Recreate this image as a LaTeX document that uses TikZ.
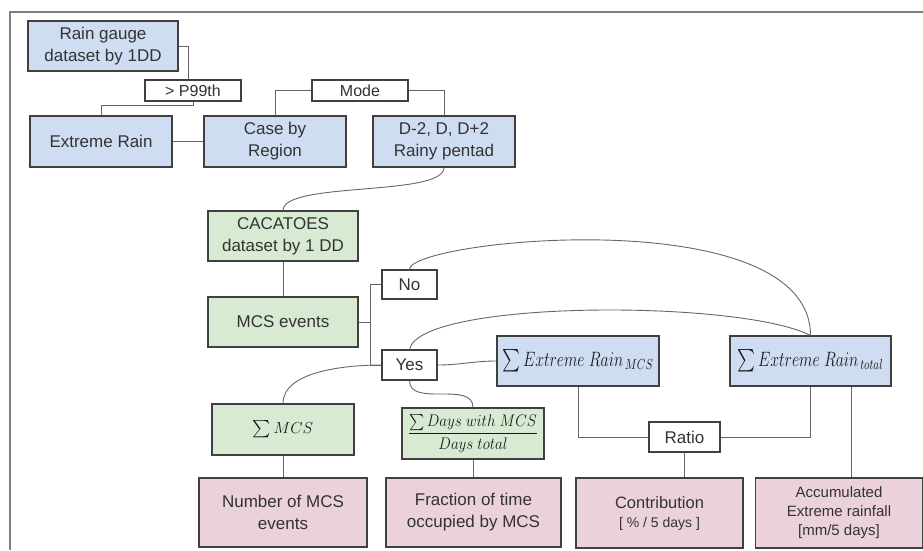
\RequirePackage{fix-cm}
\documentclass[tikz,border=0pt]{standalone}
\usepackage{exscale}
\usepackage{graphicx}
\usepackage{fontspec}
\setmainfont{Liberation Sans}
\usetikzlibrary{positioning,calc}
\definecolor{rainblue}{RGB}{207,221,243}
\definecolor{mcsgreen}{RGB}{217,234,211}
\definecolor{outpink}{RGB}{234,209,220}

\begin{document}
\begin{tikzpicture}[
    x=1pt, y=-1pt,
    every node/.style={font=\fontsize{17}{22}\selectfont, text=black!80},
    box/.style={draw=black!75, line width=1.1pt, minimum width=142, minimum height=51, align=center, inner sep=2pt},
    data/.style={box, fill=rainblue},
    mcsbox/.style={box, fill=mcsgreen},
    result/.style={box, fill=outpink, minimum width=167, minimum height=70},
    tag/.style={draw=black!75, line width=1.1pt, fill=white, minimum height=21, minimum width=96, inner sep=1pt},
    link/.style={draw=black!60, line width=0.9pt},
    frame/.style={draw=black!50, line width=2pt},
    formula/.style={font=\fontsize{16}{20}\selectfont, text=black!90},
  ]
  \useasboundingbox (0,0) rectangle (923,550);
  \draw[frame] (10,550) -- (10,12) -- (923,12);

  % rain gauge part
  \node[data, minimum width=150, minimum height=50] (gauge) at (103,46) {Rain gauge\\dataset by 1DD};
  \node[tag, font=\fontsize{16}{18}\selectfont] (p99) at (193,90.5) {> P99th};
  \node[data] (extreme) at (101,141.5) {Extreme Rain};
  \node[data] (region) at (275,141.5) {Case by\\Region};
  \node[tag, font=\fontsize{16}{18}\selectfont] (mode) at (360,90.5) {Mode};
  \node[data] (pentad) at (444,141.5) {D-2, D, D+2\\Rainy pentad};

  % MCS part
  \node[mcsbox, minimum width=150, minimum height=50] (cacatoes) at (283,236) {CACATOES\\dataset by 1 DD};
  \node[mcsbox, minimum width=150, minimum height=50] (mcs) at (283,322) {MCS events};
  \node[tag, minimum width=55, minimum height=29] (no) at (409.5,284.5) {No};
  \node[tag, minimum width=55, minimum height=30] (yes) at (409.5,365) {Yes};
  \node[data, formula, minimum width=162, minimum height=50] (emcs) at (578,361) {\scalebox{0.98}[1.3]{$\sum Extreme\ Rain_{\,MCS}$}};
  \node[data, formula, minimum width=161, minimum height=50] (etot) at (810.5,361) {\scalebox{0.98}[1.3]{$\sum Extreme\ Rain_{\,total}$}};
  \node[mcsbox, formula] (summcs) at (283,429.5) {$\sum MCS$};
  \node[mcsbox, formula, font=\fontsize{15}{18}\selectfont] (fracmath) at (473,433.5) {\scalebox{1}[1.12]{$\displaystyle\frac{\sum Days\ with\ MCS}{Days\ total}$}};
  \node[tag, minimum width=71, minimum height=30] (ratio) at (684.5,437) {Ratio};

  % outputs
  \node[result, minimum width=168, minimum height=69] (nummcs) at (283,512.5) {Number of MCS\\events};
  \node[result, minimum width=175, minimum height=69] (fractime) at (473.5,512.5) {Fraction of time\\occupied by MCS};
  \node[result, font=\fontsize{16.5}{19}\selectfont] (contrib) at (659.5,513) {Contribution\\{\fontsize{14}{19}\selectfont [ \% / 5 days ]}};
  \node[result, font=\fontsize{15}{19}\selectfont] (accum) at (839,513) {Accumulated\\Extreme rainfall\\{[mm/5 days]}};

  \draw[link] (gauge.east) -| ([xshift=-5]p99.north);
  \draw[link] (p99.south) -- ++(0,4) -| (extreme.north);
  \draw[link] (extreme) -- (region);
  \draw[link] (region.north) |- (mode.west);
  \draw[link] (mode.east) -| (pentad.north);
  \draw[link] (pentad.south) to[out=-90,in=90,looseness=0.45] (cacatoes.north);
  \draw[link] (cacatoes) -- (mcs);

  \coordinate (fork) at (370,322);
  \draw[link] (mcs.east) -- (fork);
  \draw[link] (no.west) -| (fork);
  \draw[link] (yes.west) -| (fork);
  \draw[link] (no.north) .. controls +(0,-30) and +(0,-136) .. (etot.north);
  \draw[link] (yes.north) .. controls +(10,-50) and +(-70,-36) .. (etot.north);
  \draw[link] (yes.east) to[out=0,in=180] (emcs.west);
  \draw[link] (yes.west) to[out=180,in=90,looseness=0.8] (summcs.north);
  \draw[link] (yes.south) to[out=-90,in=90] (fracmath.north);
  \draw[link] (summcs) -- (nummcs);
  \draw[link] (fracmath.south) -- (fracmath.south |- fractime.north);

  \draw[link] (emcs.south) |- (ratio.west);
  \draw[link] (etot.south) |- (ratio.east);
  \draw[link] (ratio.south) -- (ratio.south |- contrib.north);
  \draw[link] ([xshift=41]etot.south) -- ([xshift=41]etot.south |- accum.north);
\end{tikzpicture}
\end{document}
